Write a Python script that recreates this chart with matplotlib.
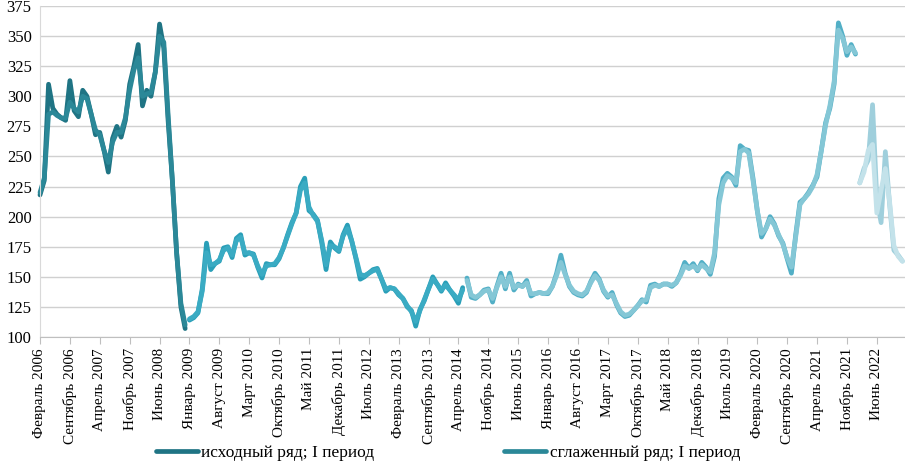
import matplotlib
matplotlib.use("Agg")
import matplotlib.pyplot as plt
import numpy as np

plt.rcParams['font.family'] = ['Liberation Serif', 'DejaVu Serif']

# monthly series, Feb 2006 = index 0; each period is a separate segment
period_starts = [0, 35, 100, 192]

orig_p1 = [218, 230, 310, 290, 285, 282, 280, 313, 288, 283, 305, 300, 285, 268, 270,
           255, 237, 265, 275, 266, 280, 310, 325, 343, 292, 305, 300, 320, 360, 340,
           280, 230, 170, 125, 107]
smooth_p1 = [220, 232, 285, 287, 284, 282, 282, 295, 290, 287, 300, 298, 285, 272, 268,
             255, 245, 262, 270, 270, 282, 305, 322, 332, 300, 302, 303, 320, 350, 345,
             285, 230, 170, 128, 110]

orig_p2 = [114, 116, 120, 140, 178, 156, 161, 163, 174, 175, 166, 182, 185, 168, 170,
           169, 158, 149, 161, 160, 160, 165, 174, 185, 195, 203, 225, 232, 205, 202,
           197, 178, 156, 179, 174, 171, 185, 193, 180, 165, 148, 150, 153, 156, 157,
           148, 138, 141, 140, 135, 132, 125, 122, 109, 123, 130, 140, 150, 144, 138,
           145, 139, 134, 128, 141]
smooth_p2 = [115, 117, 121, 138, 170, 160, 161, 164, 172, 174, 168, 180, 183, 170, 170,
             168, 159, 152, 159, 160, 161, 166, 174, 184, 194, 203, 222, 228, 208, 201,
             196, 180, 160, 176, 175, 172, 184, 190, 180, 166, 152, 151, 153, 155, 156,
             148, 140, 141, 140, 136, 132, 126, 121, 113, 122, 131, 140, 148, 144, 139,
             143, 139, 135, 131, 139]

orig_p3 = [149, 133, 132, 135, 139, 140, 129, 142, 153, 140, 153, 139, 144, 142, 147,
           134, 136, 137, 136, 136, 142, 153, 168, 153, 142, 137, 135, 134, 137, 146,
           153, 148, 138, 133, 137, 127, 120, 117, 118, 122, 126, 131, 129, 143, 144,
           142, 144, 144, 142, 145, 152, 162, 157, 161, 155, 162, 158, 152, 167, 215,
           232, 236, 233, 226, 259, 256, 255, 232, 205, 183, 190, 200, 194, 184, 178,
           165, 153, 185, 212, 215, 220, 226, 233, 255, 278, 290, 310, 361, 350, 334,
           343, 335]
smooth_p3 = [147, 135, 133, 135, 138, 139, 132, 141, 150, 142, 150, 141, 143, 142, 145,
             136, 136, 137, 136, 137, 142, 151, 162, 152, 143, 138, 136, 135, 138, 145,
             151, 147, 139, 134, 135, 128, 121, 118, 119, 122, 126, 130, 131, 141, 143,
             142, 144, 144, 143, 145, 151, 159, 157, 159, 156, 160, 157, 154, 170, 210,
             228, 234, 232, 228, 254, 256, 253, 230, 205, 186, 190, 198, 193, 185, 177,
             166, 158, 183, 210, 215, 219, 225, 235, 255, 276, 292, 312, 355, 348, 337,
             341, 336]

orig_p4 = [228, 240, 247, 293, 215, 195, 254, 210, 172, 168, 163]
smooth_p4 = [228, 237, 255, 260, 203, 222, 240, 212, 176, 167, 163]

tick_labels = ["Февраль 2006", "Сентябрь 2006", "Апрель 2007", "Ноябрь 2007", "Июнь 2008",
               "Январь 2009", "Август 2009", "Март 2010", "Октябрь 2010", "Май 2011",
               "Декабрь 2011", "Июль 2012", "Февраль 2013", "Сентябрь 2013", "Апрель 2014",
               "Ноябрь 2014", "Июнь 2015", "Январь 2016", "Август 2016", "Март 2017",
               "Октябрь 2017", "Май 2018", "Декабрь 2018", "Июль 2019", "Февраль 2020",
               "Сентябрь 2020", "Апрель 2021", "Ноябрь 2021", "Июнь 2022"]

orig_series = [orig_p1, orig_p2, orig_p3, orig_p4]
smooth_series = [smooth_p1, smooth_p2, smooth_p3, smooth_p4]
orig_colors = ["#1f7484", "#2a9fb8", "#52afc6", "#9fcfdc"]
smooth_colors = ["#2b8898", "#3aabc3", "#84c7d6", "#c3e2ea"]

fig = plt.figure(figsize=(9.05, 4.71), dpi=100)
ax = fig.add_axes([40 / 905, 1 - 337 / 471, 1 - 40 / 905, 331 / 471])

handles = []
for k in range(len(period_starts)):
    x0 = period_starts[k]
    xs = np.arange(x0, x0 + len(orig_series[k]))
    h1, = ax.plot(xs, orig_series[k], color=orig_colors[k], lw=3.4, clip_on=False,
                  solid_capstyle="round", solid_joinstyle="round")
    h2, = ax.plot(xs, smooth_series[k], color=smooth_colors[k], lw=3.4, clip_on=False,
                  solid_capstyle="round", solid_joinstyle="round")
    if k == 0:
        handles = [h1, h2]

ax.set_xlim(0, 202.6)
ax.set_ylim(100, 375)
ax.set_yticks(np.arange(100, 376, 25))
ax.grid(axis="y", color="#d0d0d0", lw=1)
ax.set_axisbelow(True)
ax.set_xticks(np.arange(0, 7 * len(tick_labels), 7))
ax.set_xticklabels(tick_labels, rotation=90, fontsize=11)
ax.tick_params(axis="x", length=5, color="#bfbfbf", pad=3)
ax.tick_params(axis="y", length=0, labelsize=12, pad=6)

for s in ["top", "right"]:
    ax.spines[s].set_visible(False)
ax.spines["left"].set_color("#d9d9d9")
ax.spines["bottom"].set_color("#bfbfbf")

fig.legend(handles, ["исходный ряд; I период", "сглаженный ряд; I период"],
           loc="lower center", bbox_to_anchor=(0.495, -0.012), ncol=2, frameon=False,
           fontsize=12.5, handlelength=2.4, handletextpad=0.2, columnspacing=7.5)

fig.savefig("out.png", dpi=100)
